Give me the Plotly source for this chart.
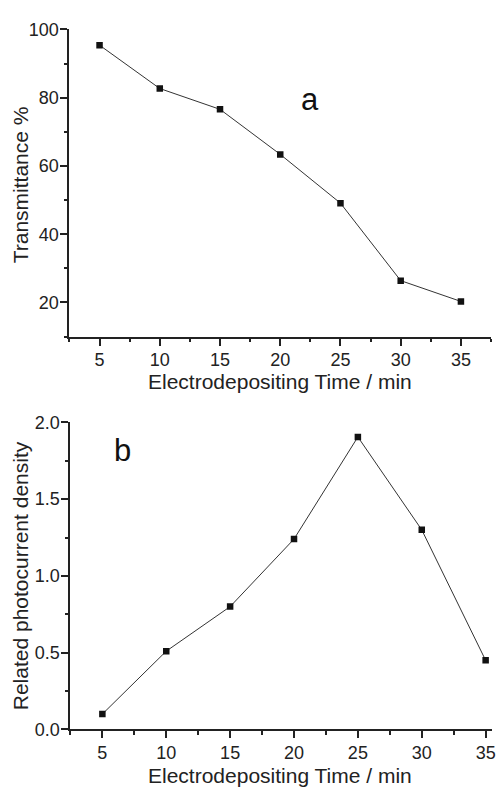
import plotly.graph_objects as go

W, H = 500, 796

time_min = [5, 10, 15, 20, 25, 30, 35]
transmittance = [95.4, 82.7, 76.6, 63.4, 49.1, 26.4, 20.3]
photocurrent = [0.10, 0.51, 0.80, 1.24, 1.905, 1.30, 0.45]

x_title = "Electrodepositing Time / min"
y_title_a = "Transmittance %"
y_title_b = "Related photocurrent density"

FONT = "Liberation Sans, Arial, sans-serif"
AX = "#222222"

def px_x(p):
    return p / W

def px_y(p):
    return 1 - p / H

fig = go.Figure()
marker = dict(symbol="square", size=6.5, color="#111111")
line = dict(color="#333333", width=1)
fig.add_trace(go.Scatter(x=time_min, y=transmittance, mode="lines+markers",
                         marker=marker, line=line, xaxis="x", yaxis="y", showlegend=False))
fig.add_trace(go.Scatter(x=time_min, y=photocurrent, mode="lines+markers",
                         marker=marker, line=line, xaxis="x2", yaxis="y2", showlegend=False))

common = dict(showline=True, linecolor=AX, linewidth=2, ticks="outside", ticklen=7,
              tickwidth=1.6, tickcolor=AX, showgrid=False, zeroline=False,
              tickfont=dict(family=FONT, size=18, color=AX), mirror=False)
minor_common = dict(ticks="outside", ticklen=3.5, tickcolor=AX, tickwidth=1.6)

fig.update_layout(
    width=W, height=H,
    margin=dict(l=0, r=0, t=0, b=0),
    paper_bgcolor="white", plot_bgcolor="white",
    xaxis=dict(domain=[px_x(70), px_x(495)], anchor="y", range=[2.5, 37.5],
               tick0=0, dtick=5, ticklabelstandoff=-1,
               minor=dict(dtick=2.5, tick0=0, **minor_common),
               **common),
    yaxis=dict(domain=[px_y(335), px_y(20)], anchor="x", range=[10, 100],
               tick0=0, dtick=20, ticklabelstandoff=-2,
               minor=dict(dtick=10, tick0=0, **minor_common),
               **common),
    xaxis2=dict(domain=[px_x(71), px_x(496)], anchor="y2", range=[2.5, 35.5],
                tick0=0, dtick=5, ticklabelstandoff=-1,
                minor=dict(dtick=2.5, tick0=0, **minor_common),
                **common),
    yaxis2=dict(domain=[px_y(738), px_y(423)], anchor="x2", range=[0, 2],
                tick0=0, dtick=0.5, tickformat=".1f", ticklabelstandoff=-2,
                minor=dict(dtick=0.25, tick0=0, **minor_common),
                **common),
)

tfont = dict(family=FONT, size=21, color=AX)
ann = [
    dict(text=x_title, x=px_x(282), y=px_y(381), xanchor="center", yanchor="middle", font=tfont),
    dict(text=x_title, x=px_x(282), y=px_y(785), xanchor="center", yanchor="middle", font=tfont),
    dict(text=y_title_a, x=px_x(21), y=px_y(179), xanchor="center", yanchor="middle", textangle=-90, font=tfont),
    dict(text=y_title_b, x=px_x(21), y=px_y(580), xanchor="center", yanchor="middle", textangle=-90, font=tfont),
    dict(text="a", x=px_x(313), y=px_y(92), xanchor="center", yanchor="middle",
         font=dict(family=FONT, size=31, color="#111111")),
    dict(text="b", x=px_x(123), y=px_y(452), xanchor="center", yanchor="middle",
         font=dict(family=FONT, size=31, color="#111111")),
]
for a in ann:
    a.update(xref="paper", yref="paper", showarrow=False)
fig.update_layout(annotations=ann)

fig.write_html("out.html")
